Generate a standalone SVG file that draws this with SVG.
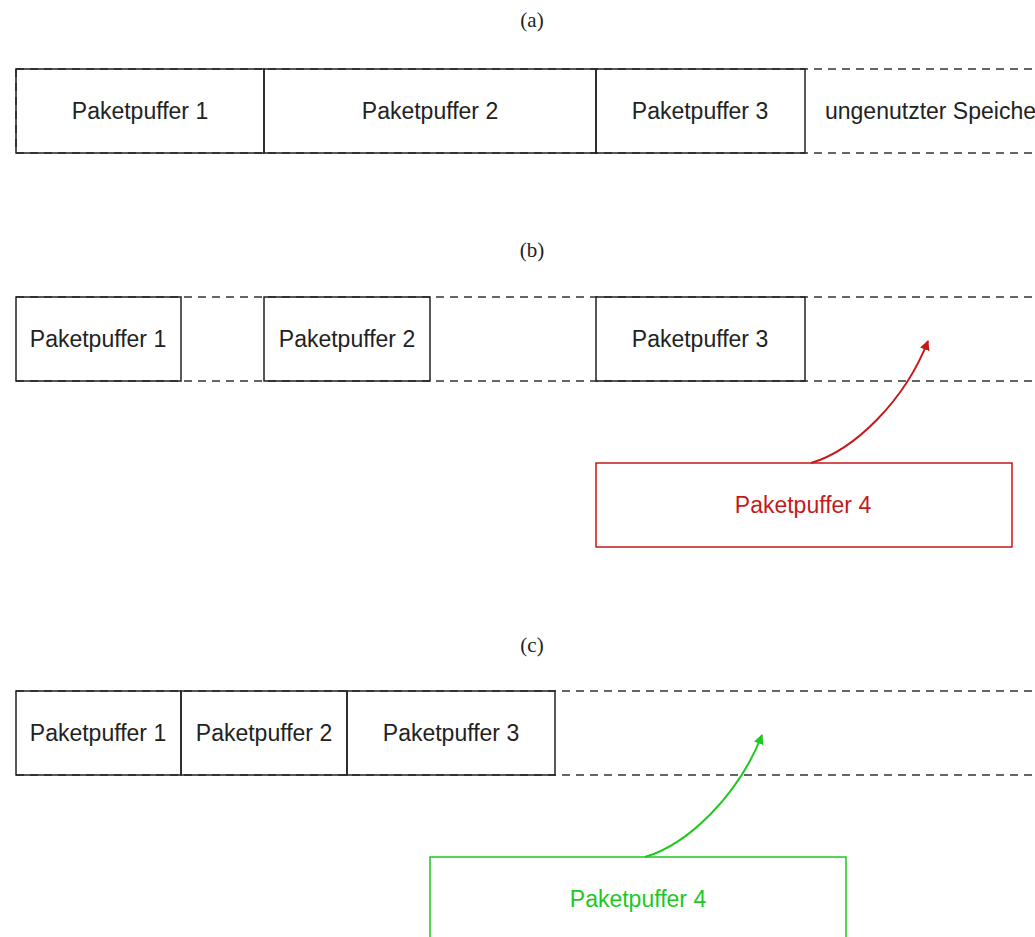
<svg xmlns="http://www.w3.org/2000/svg" width="1035" height="937" viewBox="0 0 1035 937">
  <style>
    .cap { font-family: "Liberation Serif", serif; font-size: 21px; fill: #222; text-anchor: middle; }
    .lbl { font-family: "Liberation Sans", Arial, sans-serif; font-size: 23px; fill: #222; text-anchor: middle; }
    .box { fill: none; stroke: #222; stroke-width: 1.5; }
    .free { fill: none; stroke: #333; stroke-width: 1.5; stroke-dasharray: 8 6; }
    .red { stroke: #c41a1a; }
    .green { stroke: #1ec81e; }
  </style>
  <defs>
    <marker id="arrRed" viewBox="0 0 10 10" refX="9" refY="5" markerWidth="10" markerHeight="10" markerUnits="userSpaceOnUse" orient="auto">
      <path d="M0,0 L10,5 L0,10 z" fill="#c41a1a"/>
    </marker>
    <marker id="arrGreen" viewBox="0 0 10 10" refX="9" refY="5" markerWidth="10" markerHeight="10" markerUnits="userSpaceOnUse" orient="auto">
      <path d="M0,0 L10,5 L0,10 z" fill="#1ec81e"/>
    </marker>
  </defs>

  <!-- (a) contiguous buffers -->
  <g id="row-a">
    <text class="cap" x="532" y="27">(a)</text>
    <path class="free" d="M16,69 H1040 M16,153 H1040 M16,69 V153"/>
    <g id="a-buf1"><rect class="box" x="16" y="69" width="248" height="84"/><text class="lbl" x="140" y="119">Paketpuffer 1</text></g>
    <g id="a-buf2"><rect class="box" x="264" y="69" width="332" height="84"/><text class="lbl" x="430" y="119">Paketpuffer 2</text></g>
    <g id="a-buf3"><rect class="box" x="596" y="69" width="209" height="84"/><text class="lbl" x="700" y="119">Paketpuffer 3</text></g>
    <g id="a-free"><text class="lbl" x="825" y="119" style="text-anchor:start">ungenutzter Speicher</text></g>
  </g>

  <!-- (b) fragmented buffers -->
  <g id="row-b">
    <text class="cap" x="532" y="257">(b)</text>
    <path class="free" d="M16,297 H1040 M16,381 H1040"/>
    <g id="b-buf1"><rect class="box" x="16" y="297" width="165" height="84"/><text class="lbl" x="98" y="347">Paketpuffer 1</text></g>
    <g id="b-buf2"><rect class="box" x="264" y="297" width="166" height="84"/><text class="lbl" x="347" y="347">Paketpuffer 2</text></g>
    <g id="b-buf3"><rect class="box" x="596" y="297" width="209" height="84"/><text class="lbl" x="700" y="347">Paketpuffer 3</text></g>
    <g id="b-buf4"><rect class="box red" x="596" y="463" width="416" height="84"/><text class="lbl" x="803" y="513" style="fill:#c41a1a">Paketpuffer 4</text></g>
  </g>

  <!-- (c) compacted buffers -->
  <g id="row-c">
    <text class="cap" x="532" y="652">(c)</text>
    <path class="free" d="M16,691 H1040 M16,775 H1040"/>
    <g id="c-buf1"><rect class="box" x="16" y="691" width="165" height="84"/><text class="lbl" x="98" y="741">Paketpuffer 1</text></g>
    <g id="c-buf2"><rect class="box" x="181" y="691" width="166" height="84"/><text class="lbl" x="264" y="741">Paketpuffer 2</text></g>
    <g id="c-buf3"><rect class="box" x="347" y="691" width="208" height="84"/><text class="lbl" x="451" y="741">Paketpuffer 3</text></g>
    <g id="c-buf4"><rect class="box green" x="430" y="857" width="416" height="100"/><text class="lbl" x="638" y="907" style="fill:#1ec81e">Paketpuffer 4</text></g>
  </g>

  <!-- connectors -->
  <g id="connectors" fill="none" stroke-width="2">
    <path d="M811,463 C855,450 905,400 928,341" stroke="#c41a1a" marker-end="url(#arrRed)"/>
    <path d="M645,857 C689,844 739,794 762,735" stroke="#1ec81e" marker-end="url(#arrGreen)"/>
  </g>
</svg>
